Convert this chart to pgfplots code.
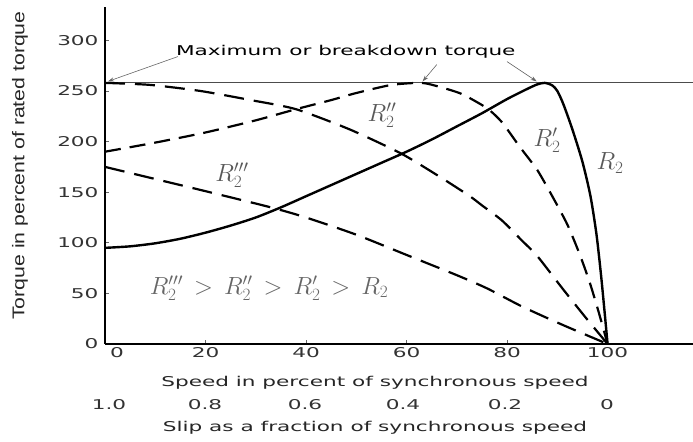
\documentclass[border=0pt]{standalone}
\usepackage{pgfplots}
\pgfplotsset{compat=1.18}
\usepackage{fontspec}
\usetikzlibrary{arrows.meta}
\newfontfamily\widesans[FakeStretch=1.6]{DejaVu Sans}
\newfontfamily\ylabfont[FakeStretch=1.25]{Liberation Sans}
\begin{document}
\begin{tikzpicture}[x=1bp,y=1bp]
\path[use as bounding box] (0,0) rectangle (693,442);
\begin{axis}[
  at={(105bp,98bp)}, anchor=south west,
  scale only axis, width=588bp, height=337bp,
  xmin=0, xmax=117, ymin=0, ymax=333,
  axis x line=bottom, axis y line=left,
  axis line style={-, line width=1.3bp, black},
  xtick={0,20,40,60,80,100}, ytick={0,50,...,300},
  xticklabels={\hspace*{24bp}0,20,40,60,80,100},
  tick align=inside, major tick length=4bp,
  tick style={black!60, line width=0.8bp},
  tick label style={font=\widesans\fontsize{13.5bp}{15bp}\selectfont, text=black!80},
  yticklabel style={xshift=-3bp},
  /pgf/number format/assume math mode=true,
  clip=false,
]
% horizontal breakdown-torque line
\addplot[black!70, line width=0.9bp] coordinates {(0,258) (117,258)};
% R2 (solid)
\addplot[black, line width=2.4bp, smooth, tension=0.45] coordinates {
(0,95) (5,96.5) (10,99.5) (15,104) (20,110) (25,117) (30,125) (35,135)
(40,146) (45,157) (50,168) (55,179) (60,190) (65,202) (70,215) (75,228)
(80,242) (84,252) (86,256.5) (87.5,258) (89,255.5) (90,250) (91.2,237) (93,212)
(95,180) (96.6,146) (97.8,108) (98.7,68) (99.4,32) (100,0)};
% R2' (peak near 63)
\addplot[black, line width=2.2bp, dash pattern=on 16bp off 9bp, smooth, tension=0.4] coordinates {
(0,190) (10,199) (20,209) (30,221) (38,232) (45,241) (50,248) (57,256)
(63,258) (66.6,254) (71,247) (76,233) (79,219) (82.5,195) (86,172)
(89,146) (92,118) (94.5,88) (96.5,60) (98.2,32) (100,0)};
% R2'' (peak at standstill)
\addplot[black, line width=2.2bp, dash pattern=on 20bp off 10bp, smooth, tension=0.4] coordinates {
(0,258) (9,256) (19,250) (29,241) (38,232) (48.7,212) (59,188) (67,164)
(72.6,146) (75,137) (79,122) (83,102) (86,87) (91,55) (95.5,27) (100,0)};
% R2'''
\addplot[black, line width=2.2bp, dash pattern=on 20bp off 10bp, smooth, tension=0.4] coordinates {
(0,175) (10,163) (20,151) (33,135) (40,125) (50,108) (60,88) (70,68)
(76,55) (83,37) (91,19) (100,0)};
% annotation arrows
\draw[black!60, line width=0.6bp, -{Stealth[length=6bp,width=4bp]}] (axis cs:14.5,284) -- (axis cs:0.6,259.5);
\draw[black!60, line width=0.6bp, -{Stealth[length=6bp,width=4bp]}] (axis cs:66,276) -- (axis cs:63.2,259.5);
\draw[black!60, line width=0.6bp, -{Stealth[length=6bp,width=4bp]}] (axis cs:80,279) -- (axis cs:85.9,259.5);
\node[font=\widesans\fontsize{13.5bp}{15bp}\selectfont] at (axis cs:47.9,289) {Maximum or breakdown torque};
\end{axis}
% curve labels
\node[text=black!65, font=\fontsize{24bp}{28bp}\selectfont] at (232,267) {$R_2'''$};
\node[text=black!65, font=\fontsize{24bp}{28bp}\selectfont] at (382,327) {$R_2''$};
\node[text=black!65, font=\fontsize{24bp}{28bp}\selectfont] at (547,302) {$R_2'$};
\node[text=black!65, font=\fontsize{24bp}{28bp}\selectfont] at (610,279) {$R_2$};
\node[text=black!60, font=\fontsize{24bp}{28bp}\selectfont] at (269,154)
  {$R_2'''\,>\,R_2''\,>\,R_2'\,>\,R_2$};
% slip tick labels
\foreach \px/\lab in {109/1.0, 205/0.8, 305/0.6, 403/0.4, 505/0.2, 607/0}
  \node[font=\widesans\fontsize{13.5bp}{15bp}\selectfont, text=black!80] at (\px,37) {\lab};
\node[font=\widesans\fontsize{13.5bp}{15bp}\selectfont, text=black!85] at (375,59) {Speed in percent of synchronous speed};
\node[font=\widesans\fontsize{13.5bp}{15bp}\selectfont, text=black!85] at (375,14) {Slip as a fraction of synchronous speed};
\node[rotate=90, font=\ylabfont\fontsize{17bp}{19bp}\selectfont, text=black!85] at (20,276.5) {Torque in percent of rated torque};
\end{tikzpicture}
\end{document}
